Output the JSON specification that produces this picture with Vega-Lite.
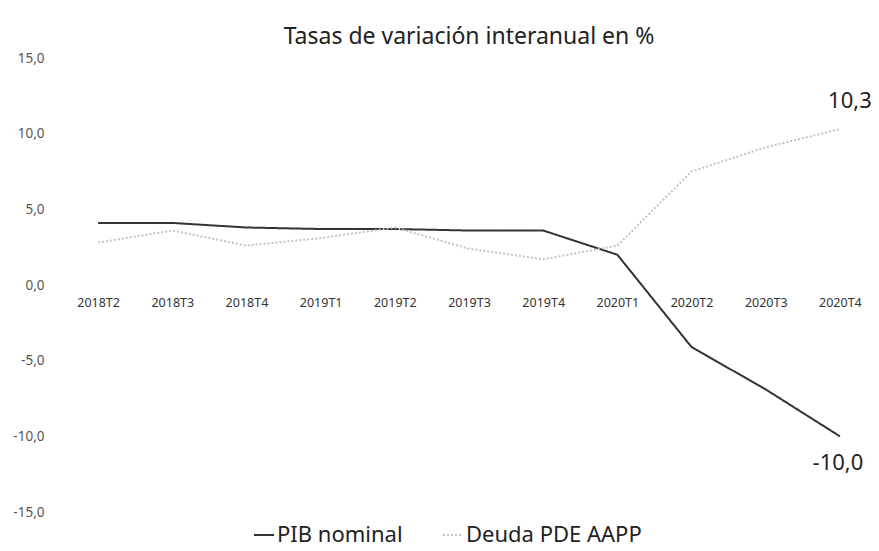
{
  "$schema": "https://vega.github.io/schema/vega-lite/v6.json",
  "width": 816,
  "height": 454,
  "autosize": "none",
  "padding": {"left": 61, "top": 58, "right": 2, "bottom": 39},
  "config": {
    "locale": {"number": {"decimal": ",", "thousands": ".", "grouping": [3], "currency": ["", " €"], "minus": "-"}},
    "font": "Noto Sans",
    "view": {"stroke": null}
  },
  "title": {
    "text": "Tasas de variación interanual en %",
    "fontSize": 23,
    "fontWeight": "normal",
    "color": "#222",
    "anchor": "middle",
    "offset": 2
  },
  "data": {
    "values": [
      {"t": "2018T2", "serie": "PIB nominal", "v": 4.1},
      {"t": "2018T3", "serie": "PIB nominal", "v": 4.1},
      {"t": "2018T4", "serie": "PIB nominal", "v": 3.8},
      {"t": "2019T1", "serie": "PIB nominal", "v": 3.7},
      {"t": "2019T2", "serie": "PIB nominal", "v": 3.7},
      {"t": "2019T3", "serie": "PIB nominal", "v": 3.6},
      {"t": "2019T4", "serie": "PIB nominal", "v": 3.6},
      {"t": "2020T1", "serie": "PIB nominal", "v": 2.0},
      {"t": "2020T2", "serie": "PIB nominal", "v": -4.1},
      {"t": "2020T3", "serie": "PIB nominal", "v": -6.9},
      {"t": "2020T4", "serie": "PIB nominal", "v": -10.0},
      {"t": "2018T2", "serie": "Deuda PDE AAPP", "v": 2.8},
      {"t": "2018T3", "serie": "Deuda PDE AAPP", "v": 3.6},
      {"t": "2018T4", "serie": "Deuda PDE AAPP", "v": 2.6},
      {"t": "2019T1", "serie": "Deuda PDE AAPP", "v": 3.1},
      {"t": "2019T2", "serie": "Deuda PDE AAPP", "v": 3.8},
      {"t": "2019T3", "serie": "Deuda PDE AAPP", "v": 2.4},
      {"t": "2019T4", "serie": "Deuda PDE AAPP", "v": 1.7},
      {"t": "2020T1", "serie": "Deuda PDE AAPP", "v": 2.6},
      {"t": "2020T2", "serie": "Deuda PDE AAPP", "v": 7.5},
      {"t": "2020T3", "serie": "Deuda PDE AAPP", "v": 9.1},
      {"t": "2020T4", "serie": "Deuda PDE AAPP", "v": 10.3}
    ]
  },
  "encoding": {
    "x": {
      "field": "t",
      "type": "ordinal",
      "scale": {"type": "point", "padding": 0.5},
      "axis": {
        "title": null,
        "labelAngle": 0,
        "domain": false,
        "ticks": false,
        "offset": -227,
        "labelPadding": 11,
        "labelFontSize": 12.5,
        "labelColor": "#333"
      }
    },
    "y": {
      "field": "v",
      "type": "quantitative",
      "scale": {"domain": [-15, 15], "nice": false, "zero": false},
      "axis": {
        "title": null,
        "values": [-15, -10, -5, 0, 5, 10, 15],
        "format": ".1f",
        "grid": false,
        "domain": false,
        "ticks": false,
        "labelPadding": 17,
        "labelFontSize": 13.5,
        "labelColor": "#555"
      }
    }
  },
  "layer": [
    {
      "mark": {"type": "line", "strokeWidth": 2},
      "encoding": {
        "color": {
          "field": "serie",
          "type": "nominal",
          "scale": {"domain": ["PIB nominal", "Deuda PDE AAPP"], "range": ["#333333", "#c4c4c4"]},
          "legend": {
            "title": null,
            "orient": "none",
            "legendX": 192,
            "legendY": 466,
            "direction": "horizontal",
            "symbolType": "stroke",
            "symbolSize": 400,
            "symbolStrokeWidth": 2,
            "labelFontSize": 22,
            "labelLimit": 400,
            "labelColor": "#222",
            "labelOffset": 2,
            "columnPadding": 36
          }
        },
        "strokeDash": {
          "field": "serie",
          "type": "nominal",
          "scale": {"domain": ["PIB nominal", "Deuda PDE AAPP"], "range": [[1, 0], [2, 2]]},
          "legend": null
        }
      }
    },
    {
      "transform": [{"filter": "datum.t === '2020T4'"}, {"filter": "datum.v > 0"}],
      "mark": {"type": "text", "fontSize": 22, "dy": -28, "dx": 10, "color": "#222", "align": "center"},
      "encoding": {"text": {"field": "v", "type": "quantitative", "format": ".1f"}}
    },
    {
      "transform": [{"filter": "datum.t === '2020T4'"}, {"filter": "datum.v < 0"}],
      "mark": {"type": "text", "fontSize": 22, "dy": 27, "dx": -2, "color": "#222", "align": "center"},
      "encoding": {"text": {"field": "v", "type": "quantitative", "format": ".1f"}}
    }
  ]
}
